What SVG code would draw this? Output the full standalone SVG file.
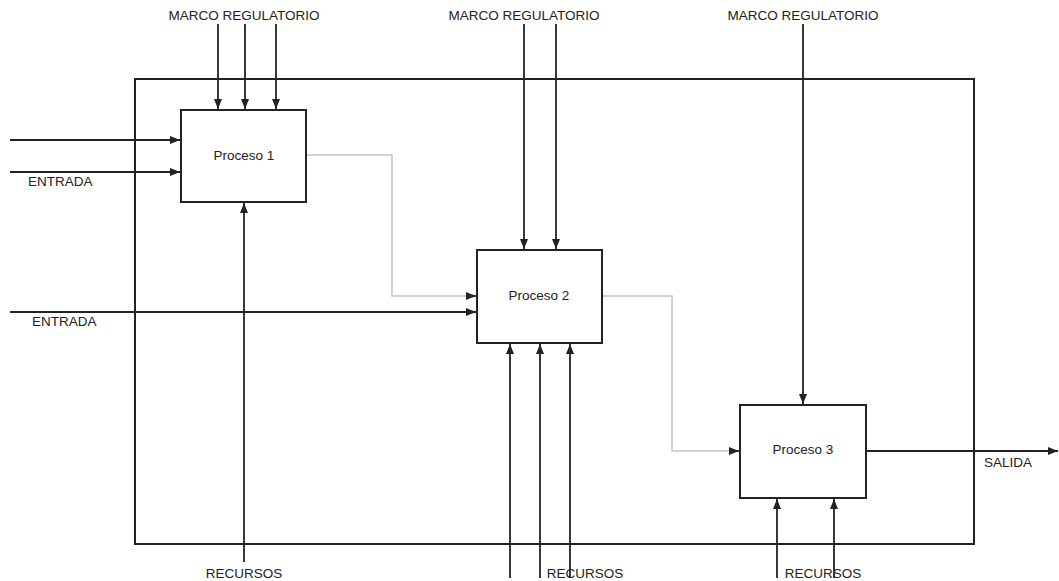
<svg xmlns="http://www.w3.org/2000/svg" width="1059" height="581" viewBox="0 0 1059 581">
<style>
.t{font-family:"Liberation Sans",Arial,sans-serif;font-size:13.5px;fill:#222}
.c{text-anchor:middle}
.box{fill:#fff;stroke:#222;stroke-width:2}
.ln{fill:none;stroke:#222;stroke-width:1.8}
.gr{fill:none;stroke:#c4c4c4;stroke-width:1.5}
</style>
<defs>
<marker id="ah" markerUnits="userSpaceOnUse" viewBox="0 0 10 8" refX="10" refY="4" markerWidth="10" markerHeight="8" orient="auto">
<path d="M0,0 L10,4 L0,8 z" fill="#222"/>
</marker>
</defs>
<rect width="1059" height="581" fill="#fff"/>
<g id="frame"><rect x="135" y="79" width="839" height="465" fill="none" stroke="#222" stroke-width="2"/></g>
<g id="connectors">
<path class="ln" d="M218,24 V109" marker-end="url(#ah)"/>
<path class="ln" d="M245,24 V109" marker-end="url(#ah)"/>
<path class="ln" d="M276,24 V109" marker-end="url(#ah)"/>
<path class="ln" d="M10,140 H180" marker-end="url(#ah)"/>
<path class="ln" d="M10,172 H180" marker-end="url(#ah)"/>
<path class="ln" d="M244,562 V203" marker-end="url(#ah)"/>
<path class="gr" d="M306,155 H392 V296 H466"/>
<path class="ln" d="M466,296 H476" marker-end="url(#ah)"/>
<path class="ln" d="M10,312 H476" marker-end="url(#ah)"/>
<path class="ln" d="M524,24 V249" marker-end="url(#ah)"/>
<path class="ln" d="M556,24 V249" marker-end="url(#ah)"/>
<path class="ln" d="M510,578 V344" marker-end="url(#ah)"/>
<path class="ln" d="M540,578 V344" marker-end="url(#ah)"/>
<path class="ln" d="M570,578 V344" marker-end="url(#ah)"/>
<path class="gr" d="M602,296 H672 V451 H729"/>
<path class="ln" d="M729,451 H739" marker-end="url(#ah)"/>
<path class="ln" d="M803,24 V404" marker-end="url(#ah)"/>
<path class="ln" d="M866,451 H1058" marker-end="url(#ah)"/>
<path class="ln" d="M777,578 V499" marker-end="url(#ah)"/>
<path class="ln" d="M834,578 V499" marker-end="url(#ah)"/>
</g>
<g id="p1"><rect class="box" x="181" y="110" width="125" height="92"/><text class="t c" x="244" y="160">Proceso 1</text></g>
<g id="p2"><rect class="box" x="477" y="250" width="125" height="93"/><text class="t c" x="539" y="300">Proceso 2</text></g>
<g id="p3"><rect class="box" x="740" y="405" width="126" height="93"/><text class="t c" x="803" y="454">Proceso 3</text></g>
<g id="labels">
<text class="t c" x="244" y="20">MARCO REGULATORIO</text>
<text class="t c" x="524" y="20">MARCO REGULATORIO</text>
<text class="t c" x="803" y="20">MARCO REGULATORIO</text>
<text class="t" x="28" y="186">ENTRADA</text>
<text class="t" x="32" y="326">ENTRADA</text>
<text class="t c" x="244" y="578">RECURSOS</text>
<text class="t c" x="585" y="578">RECURSOS</text>
<text class="t c" x="823" y="578">RECURSOS</text>
<text class="t" x="984" y="467">SALIDA</text>
</g>
</svg>
